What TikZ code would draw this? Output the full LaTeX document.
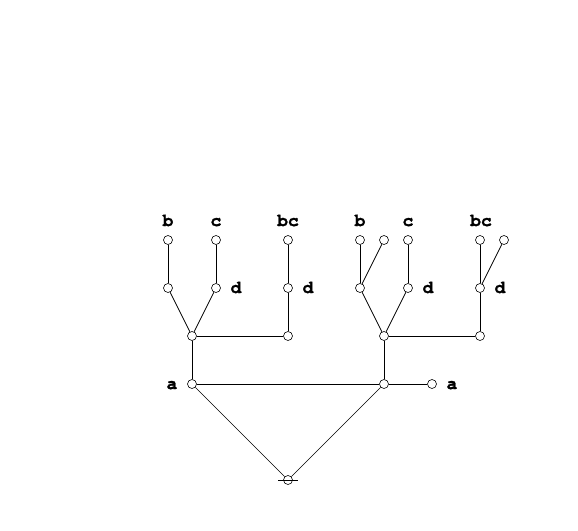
\documentclass[tikz,border=0pt]{standalone}
\usepackage{fontspec}
\newfontfamily\labfont[BoldFeatures={FakeBold=1.5}]{TeX Gyre Cursor}
\begin{document}
\begin{tikzpicture}[x=1pt,y=-1pt,
  vtx/.style={circle,draw,fill=white,inner sep=0pt,minimum size=9pt,line width=0.6pt},
  lab/.style={font=\labfont\bfseries\fontsize{18}{18}\selectfont,inner sep=0pt,anchor=base},
  edge/.style={line width=0.75pt},
  thin/.style={line width=0.5pt}]
\useasboundingbox (0,0) rectangle (578,530);
% left tree
\node[vtx] (l1) at (168,240) {};
\node[vtx] (l2) at (216,240) {};
\node[vtx] (l3) at (288,240) {};
\node[vtx] (l4) at (168,288) {};
\node[vtx] (l5) at (216,288) {};
\node[vtx] (l6) at (288,288) {};
\node[vtx] (l7) at (192,336) {};
\node[vtx] (l8) at (288,336) {};
\node[vtx] (la) at (192,384) {};
% right tree
\node[vtx] (r1) at (360,240) {};
\node[vtx] (r2) at (384,240) {};
\node[vtx] (r3) at (408,240) {};
\node[vtx] (r4) at (480,240) {};
\node[vtx] (r5) at (504,240) {};
\node[vtx] (r6) at (360,288) {};
\node[vtx] (r7) at (408,288) {};
\node[vtx] (r8) at (480,288) {};
\node[vtx] (r9) at (384,336) {};
\node[vtx] (r10) at (480,336) {};
\node[vtx] (ra) at (384,384) {};
\node[vtx] (rb) at (432,384) {};
% root
\node[vtx] (root) at (288,480) {};
\coordinate (rootL) at (278,480);
\coordinate (rootR) at (298,480);
% edges
\draw[edge] (l1) -- (l4);
\draw[edge] (l2) -- (l5);
\draw[edge] (l3) -- (l6);
\draw[edge] (l4) -- (l7);
\draw[edge] (l5) -- (l7);
\draw[edge] (l6) -- (l8);
\draw[edge] (l7) -- (l8);
\draw[edge] (l7) -- (la);
\draw[edge] (r1) -- (r6);
\draw[edge] (r2) -- (r6);
\draw[edge] (r3) -- (r7);
\draw[edge] (r4) -- (r8);
\draw[edge] (r5) -- (r8);
\draw[edge] (r6) -- (r9);
\draw[edge] (r7) -- (r9);
\draw[edge] (r8) -- (r10);
\draw[edge] (r9) -- (r10);
\draw[edge] (r9) -- (ra);
\draw[edge] (la) -- (ra);
\draw[edge] (ra) -- (rb);
\draw[thin] (la) -- (root);
\draw[thin] (ra) -- (root);
\draw[edge] (rootL) -- (rootR);
% labels
\node[lab] (tb1) at (168,226) {b};
\node[lab] (tc1) at (216,226) {c};
\node[lab] (tbc1) at (288,226) {bc};
\node[lab] (td1) at (236,293) {d};
\node[lab] (td2) at (308,293) {d};
\node[lab] (tb2) at (360,226) {b};
\node[lab] (tc2) at (408,226) {c};
\node[lab] (tbc2) at (481,226) {bc};
\node[lab] (td3) at (428,293) {d};
\node[lab] (td4) at (500,293) {d};
\node[lab] (ta1) at (172,389) {a};
\node[lab] (ta2) at (452,389) {a};
\end{tikzpicture}
\end{document}
